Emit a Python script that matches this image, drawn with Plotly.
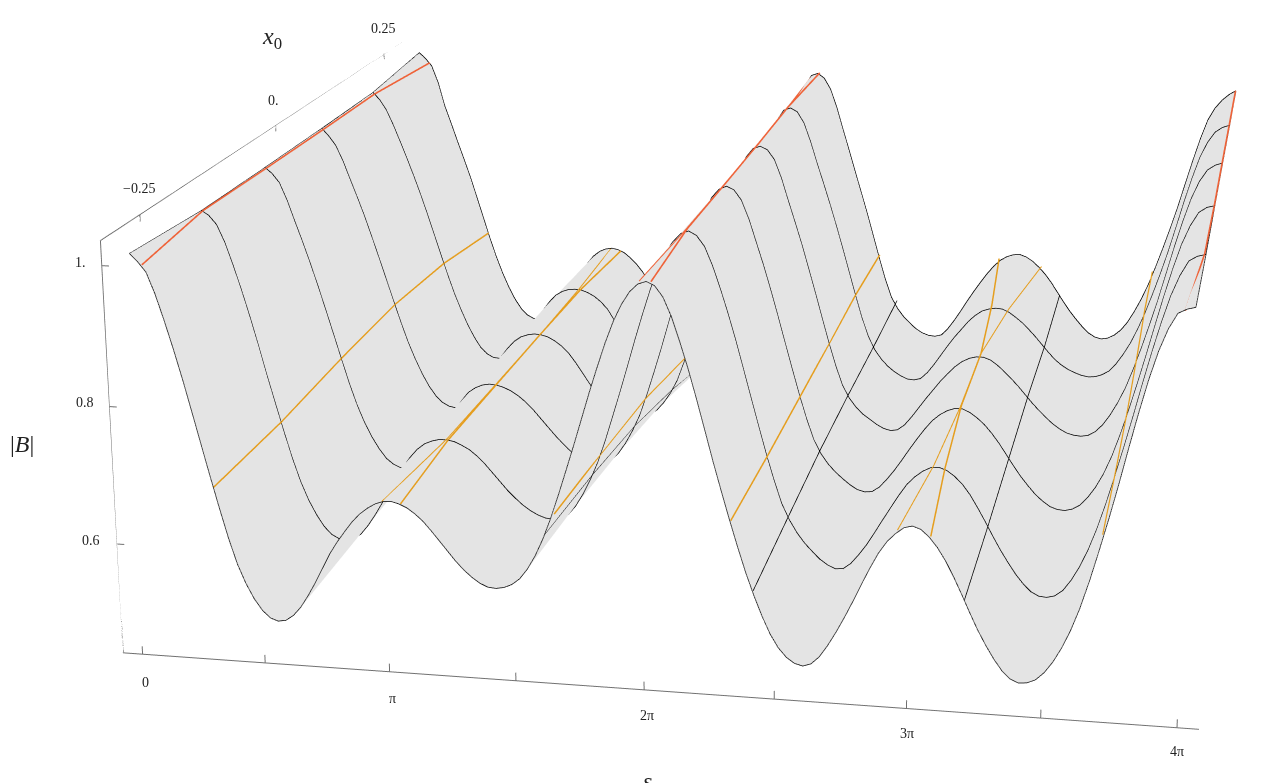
import plotly.graph_objects as go

# field strength: one row per x0 value, one column per s value (steps of pi/32)
s_grid = [0, .098, .196, .295, .393, .491, .589, .687, .785, .884, .982, 1.08, 1.178, 1.276, 1.374, 1.473,
          1.571, 1.669, 1.767, 1.865, 1.963, 2.062, 2.16, 2.258, 2.356, 2.454, 2.553, 2.651, 2.749, 2.847, 2.945, 3.043,
          3.142, 3.24, 3.338, 3.436, 3.534, 3.632, 3.731, 3.829, 3.927, 4.025, 4.123, 4.222, 4.32, 4.418, 4.516, 4.614,
          4.712, 4.811, 4.909, 5.007, 5.105, 5.203, 5.301, 5.4, 5.498, 5.596, 5.694, 5.792, 5.89, 5.989, 6.087, 6.185,
          6.283, 6.381, 6.479, 6.578, 6.676, 6.774, 6.872, 6.97, 7.069, 7.167, 7.265, 7.363, 7.461, 7.559, 7.658, 7.756,
          7.854, 7.952, 8.05, 8.149, 8.247, 8.345, 8.443, 8.541, 8.639, 8.738, 8.836, 8.934, 9.032, 9.13, 9.228, 9.327,
          9.425, 9.523, 9.621, 9.719, 9.817, 9.916, 10.014, 10.112, 10.21, 10.308, 10.407, 10.505, 10.603, 10.701, 10.799, 10.897,
          10.996, 11.094, 11.192, 11.29, 11.388, 11.487, 11.585, 11.683, 11.781, 11.879, 11.977, 12.076, 12.174, 12.272, 12.37, 12.468,
          12.566]
x0_rows = [-0.3, -0.18, -0.06, 0.06, 0.18, 0.3]

b_row0 = [1.01, .999, .985, .955, .918, .878, .835, .789, .742, .695, .65, .607, .57, .542, .52, .5035,
          .493, .489, .491, .499, .512, .53, .55, .572, .594, .612, .628, .643, .655, .664, .671, .675,
          .676, .673, .668, .66, .65, .637, .623, .609, .595, .583, .573, .565, .56, .559, .561, .566,
          .575, .59, .61, .635, .665, .699, .735, .772, .81, .848, .884, .918, .948, .972, .99, 1.001,
          1.005, 1.0, .985, .959, .925, .888, .847, .804, .76, .719, .679, .641, .605, .573, .544, .519,
          .50, .487, .479, .476, .48, .491, .508, .528, .55, .574, .599, .623, .645, .662, .674, .683,
          .686, .682, .672, .658, .64, .618, .594, .569, .545, .524, .505, .489, .478, .473, .474, .479,
          .49, .506, .527, .553, .585, .624, .667, .712, .76, .811, .86, .906, .945, .975, .996, 1.002,
          1.005]
b_row1 = [.995, .988, .975, .949, .915, .878, .838, .795, .75, .707, .665, .625, .59, .562, .54, .522,
          .51, .504, .503, .507, .515, .529, .546, .565, .585, .604, .621, .637, .65, .659, .664, .667,
          .667, .665, .66, .654, .645, .634, .621, .608, .595, .584, .574, .566, .56, .556, .555, .558,
          .565, .579, .598, .621, .648, .681, .718, .756, .795, .835, .873, .909, .94, .963, .98, .992,
          .996, .99, .975, .948, .915, .879, .84, .798, .755, .713, .672, .634, .60, .576, .557, .542,
          .53, .519, .511, .506, .507, .516, .53, .546, .565, .585, .604, .623, .64, .652, .661, .667,
          .668, .664, .656, .645, .63, .611, .591, .57, .55, .532, .515, .501, .49, .484, .483, .486,
          .495, .511, .532, .558, .59, .628, .67, .714, .76, .808, .854, .897, .935, .964, .985, .992,
          .995]
b_row2 = [.988, .979, .965, .938, .905, .873, .839, .803, .765, .726, .687, .649, .615, .587, .564, .545,
          .53, .521, .516, .516, .52, .531, .545, .562, .58, .598, .615, .631, .645, .653, .658, .66,
          .659, .656, .651, .644, .635, .624, .611, .598, .585, .573, .562, .552, .545, .541, .54, .543,
          .55, .562, .579, .60, .625, .658, .694, .732, .772, .812, .851, .887, .92, .948, .97, .983,
          .988, .983, .968, .94, .905, .87, .832, .792, .75, .709, .669, .632, .60, .578, .562, .55,
          .54, .531, .524, .521, .522, .53, .543, .558, .575, .593, .61, .626, .64, .65, .657, .661,
          .661, .656, .648, .638, .625, .61, .593, .576, .56, .546, .533, .523, .515, .511, .51, .513,
          .52, .533, .55, .572, .60, .635, .674, .716, .76, .806, .851, .893, .93, .958, .978, .986,
          .989]
b_row3 = [.982, .97, .955, .93, .90, .87, .839, .805, .77, .734, .698, .663, .63, .602, .577, .556,
          .54, .529, .523, .521, .525, .535, .548, .563, .58, .597, .613, .628, .64, .648, .652, .654,
          .653, .65, .644, .636, .625, .61, .593, .576, .56, .549, .541, .535, .53, .526, .524, .525,
          .53, .538, .551, .568, .59, .621, .656, .694, .735, .779, .822, .863, .90, .935, .962, .976,
          .98, .975, .96, .931, .895, .86, .824, .785, .745, .704, .664, .627, .595, .574, .559, .548,
          .54, .532, .526, .523, .525, .534, .548, .564, .58, .595, .61, .623, .635, .644, .65, .653,
          .653, .649, .641, .631, .62, .608, .595, .582, .57, .559, .549, .541, .535, .532, .531, .533,
          .54, .552, .569, .59, .615, .647, .682, .72, .76, .804, .848, .889, .925, .952, .97, .978,
          .982]
b_row4 = [.977, .965, .948, .923, .895, .866, .836, .804, .77, .734, .698, .663, .63, .601, .575, .553,
          .535, .524, .518, .517, .52, .53, .543, .558, .575, .592, .608, .623, .635, .642, .646, .647,
          .646, .642, .636, .627, .615, .597, .577, .557, .54, .53, .523, .518, .515, .51, .506, .504,
          .505, .508, .515, .526, .545, .576, .614, .656, .70, .746, .791, .834, .875, .919, .955, .972,
          .976, .97, .952, .921, .885, .851, .816, .779, .74, .70, .66, .622, .59, .567, .551, .539,
          .53, .523, .518, .517, .52, .531, .546, .563, .58, .596, .61, .624, .635, .643, .647, .649,
          .648, .643, .635, .626, .615, .603, .59, .577, .565, .556, .549, .544, .54, .538, .539, .543,
          .55, .563, .58, .60, .625, .654, .687, .722, .76, .802, .845, .885, .92, .945, .962, .97,
          .974]
b_row5 = [.985, .975, .962, .932, .89, .858, .825, .793, .76, .723, .686, .649, .615, .585, .559, .537,
          .52, .509, .503, .501, .505, .515, .528, .543, .56, .578, .595, .611, .625, .634, .639, .641,
          .639, .634, .625, .614, .60, .581, .561, .541, .525, .516, .511, .507, .505, .502, .499, .499,
          .50, .502, .508, .518, .535, .563, .598, .637, .68, .726, .772, .816, .86, .909, .95, .968,
          .972, .964, .945, .913, .875, .838, .80, .763, .725, .685, .645, .607, .575, .555, .54, .529,
          .519, .512, .508, .507, .51, .522, .538, .556, .575, .593, .61, .626, .64, .651, .658, .662,
          .663, .659, .652, .642, .63, .615, .598, .581, .565, .551, .538, .527, .52, .517, .519, .525,
          .535, .55, .57, .593, .62, .652, .686, .722, .76, .802, .843, .882, .915, .936, .95, .96,
          .967]
b_rows = [b_row0, b_row1, b_row2, b_row3, b_row4, b_row5]

# lines across the sheet, value at each x0 row
red_s0 = [.15, .03, .03, .03, .03, .17]
red_b0 = [.995, .996, .988, .981, .975, .968]
red_s1 = [6.20, 6.24, 6.25, 6.25, 6.25, 6.17]
red_b1 = [1.005, .998, .991, .983, .979, .965]
red_s2 = [6.34, 6.27, 6.26, 6.25, 6.25, 6.31]
red_b2 = [1.005, 1.001, .992, .984, .979, .974]
red_s3 = [12.45, 12.55, 12.56, 12.56, 12.56, 12.56]
red_b3 = [1.000, .996, .990, .983, .975, .968]

org_s0 = [.92, .95, .98, 1.0, 1.03, 1.06]
org_b0 = [.681, .681, .690, .693, .683, .660]
org_s1 = [3.03, 3.14, 3.13, 3.13, 3.10, 3.03]
org_b1 = [.675, .669, .661, .655, .648, .641]
org_s2 = [3.26, 3.16, 3.14, 3.13, 3.13, 3.19]
org_b2 = [.673, .668, .661, .655, .648, .638]
org_s3 = [5.15, 5.14, 5.19, 5.23, 5.27, 5.30]
org_b3 = [.672, .659, .652, .629, .597, .595]
org_s4 = [7.28, 7.28, 7.28, 7.27, 7.27, 7.27]
org_b4 = [.678, .672, .669, .664, .662, .652]
org_s5 = [9.25, 9.36, 9.40, 9.39, 9.52, 9.76]
org_b5 = [.679, .671, .666, .660, .650, .644]
org_s6 = [9.64, 9.50, 9.41, 9.39, 9.27, 9.11]
org_b6 = [.673, .668, .667, .660, .655, .655]
org_s7 = [11.62, 11.60, 11.57, 11.53, 11.48, 11.44]
org_b7 = [.690, .684, .676, .670, .661, .644]

blk_s0 = [5.03, 5.03, 5.03, 5.03, 5.03, 5.03]
blk_b0 = [.642, .627, .606, .573, .532, .523]
blk_s1 = [7.55, 7.55, 7.55, 7.55, 7.55, 7.55]
blk_b1 = [.580, .583, .585, .581, .574, .570]
blk_s2 = [10.05, 10.05, 10.05, 10.05, 10.05, 10.05]
blk_b2 = [.587, .586, .589, .592, .587, .594]

s_ticks = [0, 1.5708, 3.1416, 4.7124, 6.2832, 7.854, 9.4248, 10.9956, 12.5664]
x0_ticks = [-0.25, 0, 0.25]
x0_tick_top = [1.032, 1.020, 1.008]
b_ticks = [1.0, 0.8, 0.6]

s_lim = [-0.25, 12.82]
x0_lim = [-0.3125, 0.3125]
b_lim = [0.434, 1.035]
b_base = 0.438
b_far_top = 1.005

AXIS = "#707070"
ORANGE = "#E59E1E"
RED = "#EF6238"
SERIF = "Liberation Serif"
LIFT = 0.001

fig = go.Figure()

fig.add_trace(go.Surface(
    x=s_grid, y=x0_rows, z=b_rows,
    colorscale=[[0, "#E4E4E4"], [1, "#E4E4E4"]], showscale=False, hoverinfo="skip",
    lighting=dict(ambient=1, diffuse=0, specular=0, roughness=1, fresnel=0),
))


def add_line(xs, ys, zs, color="black", width=1.5):
    fig.add_trace(go.Scatter3d(x=xs, y=ys, z=zs, mode="lines", hoverinfo="skip",
                               line=dict(color=color, width=width)))


# each curve sits just above and just below the sheet so it shows from either side
add_line(s_grid, [x0_rows[0]] * len(s_grid), b_row0)
for x0, row in zip(x0_rows[1:], b_rows[1:]):
    add_line(s_grid, [x0] * len(s_grid), [v + LIFT for v in row])
    add_line(s_grid, [x0] * len(s_grid), [v - LIFT for v in row])
add_line([s_grid[0]] * 6, x0_rows, [r[0] for r in b_rows])
add_line(blk_s0, x0_rows, blk_b0)
add_line(blk_s1, x0_rows, blk_b1)
add_line(blk_s2, x0_rows, blk_b2)

add_line(org_s0, x0_rows, org_b0, ORANGE, 3)
add_line(org_s1, x0_rows, org_b1, ORANGE, 2)
add_line(org_s2, x0_rows, org_b2, ORANGE, 3)
add_line(org_s3, x0_rows, org_b3, ORANGE, 3)
add_line(org_s4, x0_rows, org_b4, ORANGE, 3)
add_line(org_s5, x0_rows, org_b5, ORANGE, 2)
add_line(org_s6, x0_rows, org_b6, ORANGE, 3)
add_line(org_s7, x0_rows, org_b7, ORANGE, 2.4)
add_line(red_s0, x0_rows, red_b0, RED, 3.2)
add_line(red_s1, x0_rows, red_b1, RED, 2)
add_line(red_s2, x0_rows, red_b2, RED, 3.2)
add_line(red_s3, x0_rows, red_b3, RED, 3.2)
add_line([s_grid[-1]] * 6, x0_rows, [r[-1] for r in b_rows])

# axis frame and ticks
add_line(s_lim, [x0_lim[0]] * 2, [b_base] * 2, AXIS, 2)
add_line([s_lim[0]] * 2, [x0_lim[0]] * 2, [b_base, b_lim[1]], AXIS, 2)
add_line([s_lim[0]] * 2, x0_lim, [b_lim[1], b_far_top], AXIS, 2)
for t in s_ticks:
    add_line([t, t], [x0_lim[0]] * 2, [b_base, b_base + 0.012], AXIS, 2)
for t, top in zip(x0_ticks, x0_tick_top):
    add_line([s_lim[0]] * 2, [t, t], [top, top - 0.01], AXIS, 2)
for t in b_ticks:
    add_line([s_lim[0], s_lim[0] + 0.09], [x0_lim[0]] * 2, [t, t], AXIS, 2)


def label(text, x, y, z, dx, dy, size=14):
    return dict(x=x, y=y, z=z, text=text, showarrow=False, xanchor="center", yanchor="middle",
                xshift=dx, yshift=dy, font=dict(family=SERIF, size=size, color="#222222"))


annotations = [
    label("1.", s_lim[0], x0_lim[0], 1.0, -21, 3),
    label("0.8", s_lim[0], x0_lim[0], 0.8, -25, 4),
    label("0.6", s_lim[0], x0_lim[0], 0.6, -26, 4),
    label("|<i>B</i>|", s_lim[0], x0_lim[0], 0.74, -90, 4, 24),
    label("\u22120.25", s_lim[0], -0.25, x0_tick_top[0], -1, 26),
    label("0.", s_lim[0], 0, x0_tick_top[1], -2, 25),
    label("0.25", s_lim[0], 0.25, x0_tick_top[2], -1, 25),
    label("<i>x</i><sub>0</sub>", s_lim[0], 0, x0_tick_top[1], -4, 87, 24),
    label("0", s_ticks[0], x0_lim[0], b_base, 3, -28),
    label("\u03c0", s_ticks[2], x0_lim[0], b_base, 3, -27),
    label("2\u03c0", s_ticks[4], x0_lim[0], b_base, 3, -26),
    label("3\u03c0", s_ticks[6], x0_lim[0], b_base, 1, -25),
    label("4\u03c0", s_ticks[8], x0_lim[0], b_base, 0, -24),
    label("<i>s</i>", s_ticks[4], x0_lim[0], b_base, 3, -91, 24),
]

hidden = dict(visible=False)
fig.update_layout(
    width=1262, height=2808, autosize=False,
    margin=dict(l=0, r=0, t=0, b=0, pad=0),
    paper_bgcolor="white", showlegend=False,
    scene=dict(
        xaxis=dict(range=s_lim, **hidden),
        yaxis=dict(range=x0_lim, **hidden),
        zaxis=dict(range=b_lim, **hidden),
        aspectmode="manual",
        aspectratio=dict(x=1, y=1.055, z=0.403),
        camera=dict(
            eye=dict(x=0.577, y=-3.342, z=0.973),
            center=dict(x=-0.106, y=-0.068, z=-0.059),
            up=dict(x=-0.0525, y=0.2903, z=0.9556),
        ),
        annotations=annotations,
    ),
)

# long-lens view: the scene is taller than the window, centred on the window's middle
shift = """
var gd = document.getElementById('{plot_id}');
document.documentElement.style.overflow = 'hidden';
document.body.style.overflow = 'hidden';
document.body.style.margin = '0';
gd.style.position = 'absolute';
gd.style.left = '0px';
gd.style.top = '-1013px';
"""
fig.write_html("out.html", post_script=shift)
